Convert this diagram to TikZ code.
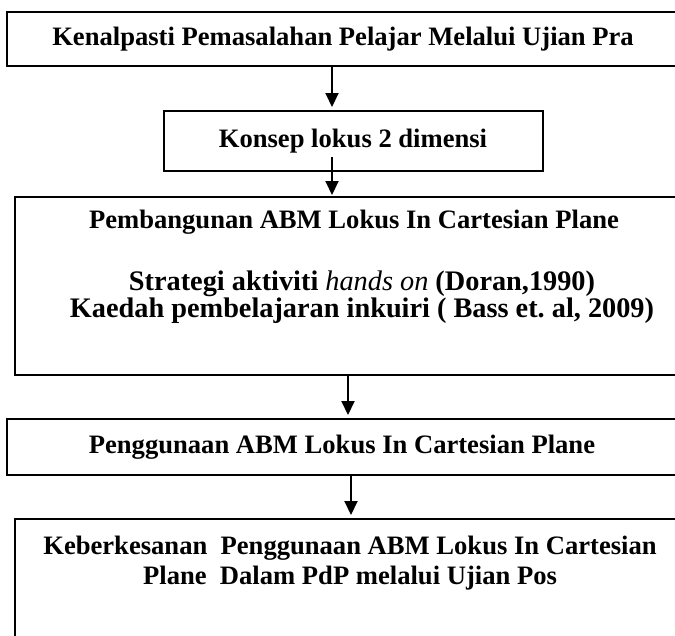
\documentclass[tikz,border=0pt]{standalone}
\usepackage{fontspec}
\setmainfont{Liberation Serif}
\usetikzlibrary{arrows.meta}
\begin{document}
\begin{tikzpicture}[x=1pt,y=-1pt,
  box/.style={draw, line width=2pt, rectangle, inner sep=0pt, outer sep=0pt, anchor=north west},
  txt/.style={font=\fontsize{26.6}{30}\selectfont\bfseries, inner sep=0pt, align=center},
  bigtxt/.style={font=\fontsize{28.3}{27}\selectfont\bfseries, inner sep=0pt, align=center},
  arr/.style={line width=2pt, -{Triangle[length=14pt,width=13pt]}}]
\useasboundingbox (0,0) rectangle (675,635);
\clip (0,0) rectangle (675,635);
% boxes
\node[box, minimum width=683pt, minimum height=54pt] (b1) at (7,12) {};
\node[box, minimum width=379pt, minimum height=60pt] (b2) at (164,111) {};
\node[box, minimum width=690pt, minimum height=178pt] (b3) at (15,197) {};
\node[box, minimum width=683pt, minimum height=56pt] (b4) at (7,419) {};
\node[box, minimum width=690pt, minimum height=181pt] (b5) at (15,519) {};
% texts
\node[txt] (t1) at (343,39) {Kenalpasti Pemasalahan Pelajar Melalui Ujian Pra};
\node[txt] (t2) at (353,141) {Konsep lokus 2 dimensi};
\node[txt] (t3) at (354,222) {Pembangunan ABM Lokus In Cartesian Plane};
\node[bigtxt] (t3b) at (362,297) {Strategi aktiviti \textmd{\textit{hands on}} (Doran,1990)\\Kaedah pembelajaran inkuiri ( Bass et.\ al, 2009)};
\node[txt] (t4) at (342,447) {Penggunaan ABM Lokus In Cartesian Plane};
\node[txt] (t5) at (350,563) {Keberkesanan\ \ Penggunaan ABM Lokus In Cartesian\\Plane\ \ Dalam PdP melalui Ujian Pos};
% arrow x positions
\coordinate (x1) at (332,0);
\coordinate (x2) at (332,157);
\coordinate (x3) at (348,0);
\coordinate (x4) at (351,0);
% connectors
\draw[arr, shorten >=4pt] (b1.south -| x1) -- (b2.north -| x1);
\draw[arr, shorten >=2pt] (x2) -- (b3.north -| x2);
\draw[arr, shorten >=4pt] (b3.south -| x3) -- (b4.north -| x3);
\draw[arr, shorten >=4pt] (b4.south -| x4) -- (b5.north -| x4);
\end{tikzpicture}
\end{document}
